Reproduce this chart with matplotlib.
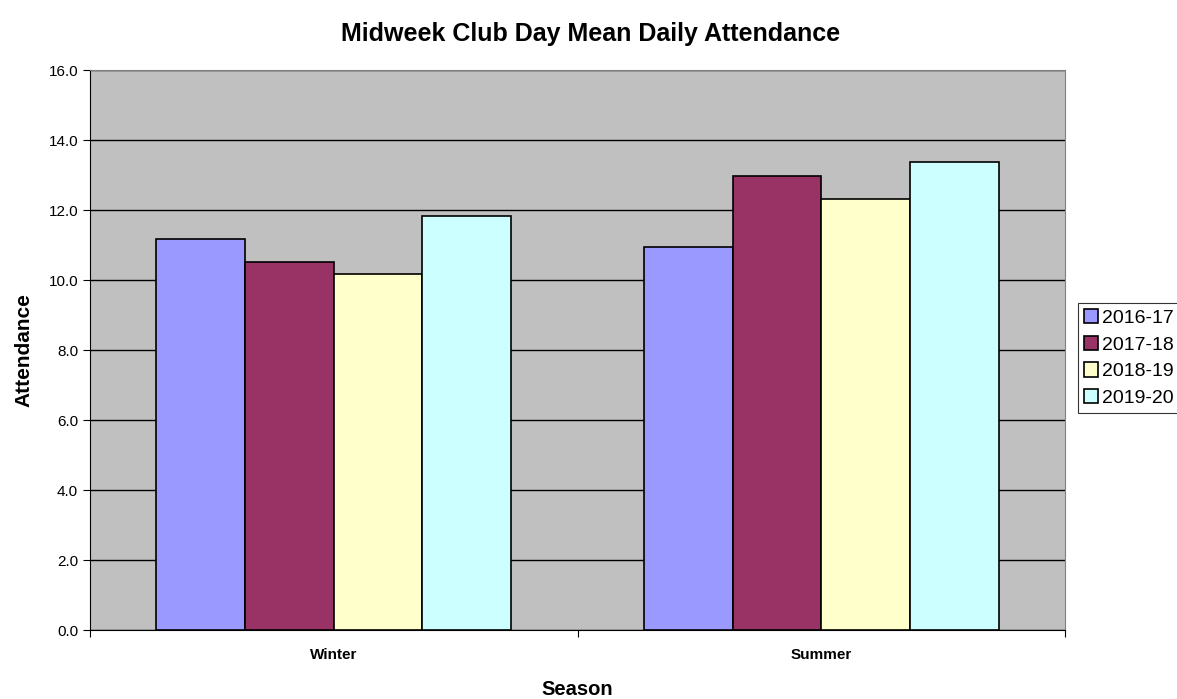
import numpy as np
import matplotlib.pyplot as plt

seasons = ['Winter', 'Summer']
years = ['2016-17', '2017-18', '2018-19', '2019-20']
winter = [11.18, 10.53, 10.19, 11.83]
summer = [10.96, 12.99, 12.32, 13.39]
colors = ['#9999FF', '#993366', '#FFFFCC', '#CCFFFF']

plt.rcParams['font.family'] = ['Liberation Sans', 'DejaVu Sans']

fig = plt.figure(figsize=(11.77, 6.99), dpi=100)
ax = fig.add_axes([90 / 1177, 1 - 630.3 / 699, 975 / 1177, 560 / 699])
ax.set_facecolor('#C0C0C0')

data = np.array([winter, summer])
x = np.arange(len(seasons))
w = 1 / 5.5
for i, yr in enumerate(years):
    ax.bar(x + (i - 1.5) * w, data[:, i], width=w, color=colors[i],
           edgecolor='black', linewidth=1.2, label=yr, zorder=3)

ax.set_xlim(-0.5, 1.5)
ax.set_ylim(0, 16)
ax.set_yticks(np.arange(0, 16.1, 2))
ax.set_yticklabels([f'{v:.1f}' for v in np.arange(0, 16.1, 2)], fontsize=11)
ax.yaxis.grid(True, color='black', linewidth=1, zorder=1)
ax.set_axisbelow(True)

ax.set_xticks([-0.5, 0.5, 1.5])
ax.set_xticklabels([])
ax.set_xticks(x, minor=True)
ax.set_xticklabels(seasons, minor=True, fontsize=11, fontweight='bold')
ax.tick_params(axis='x', which='minor', length=0, pad=13)
ax.tick_params(axis='x', which='major', length=5, direction='out')
ax.tick_params(axis='y', length=5, direction='out')

for s in ['top', 'right']:
    ax.spines[s].set_color('#808080')
ax.spines['left'].set_color('black')
ax.spines['bottom'].set_color('black')

ax.set_xlabel('Season', fontsize=14.5, fontweight='bold', labelpad=13)
ax.set_ylabel('Attendance', fontsize=15, fontweight='bold', labelpad=11)
fig.suptitle('Midweek Club Day Mean Daily Attendance', fontsize=18,
             fontweight='bold', x=0.502, y=0.969)

leg = fig.legend(loc='center left', bbox_to_anchor=(1078 / 1177, 0.488),
                 fontsize=14, frameon=True, fancybox=False, edgecolor='black',
                 handlelength=0.75, handleheight=0.75, handletextpad=0.2,
                 borderpad=0.3, labelspacing=0.45, borderaxespad=0)
leg.get_frame().set_linewidth(0.8)

fig.savefig('out.png', dpi=100)
